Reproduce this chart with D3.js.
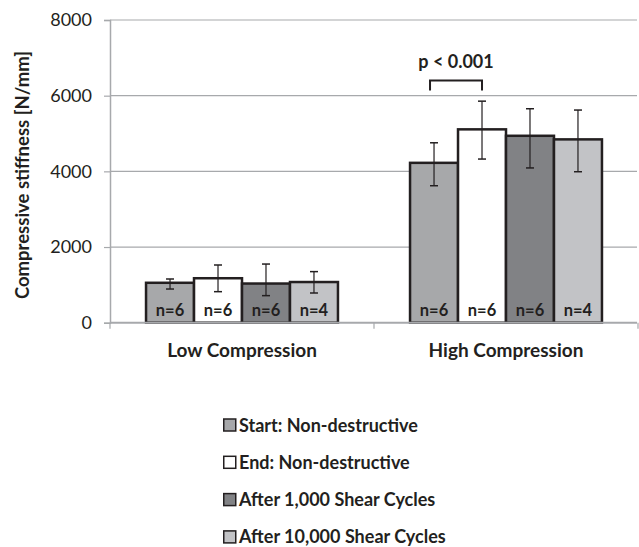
<!DOCTYPE html>
<html>
<head>
<meta charset="utf-8">
<script src="https://d3js.org/d3.v7.min.js"></script>
<style>
  body { margin: 0; background: #fff; }
  text { font-family: Lato, "Open Sans", sans-serif; fill: #231f20; }
</style>
</head>
<body>
<div id="chart"></div>
<script>
const groups = ['Low Compression', 'High Compression'];
const series = ['Start: Non-destructive', 'End: Non-destructive', 'After 1,000 Shear Cycles', 'After 10,000 Shear Cycles'];
const seriesColors = ['#a7a8aa', '#ffffff', '#818285', '#c2c3c6'];
const lowMeans = [1055, 1175, 1035, 1075];
const lowErrTop = [1155, 1525, 1550, 1350];
const lowErrBottom = [890, 820, 715, 785];
const highMeans = [4225, 5110, 4940, 4845];
const highErrTop = [4755, 5855, 5655, 5620];
const highErrBottom = [3620, 4325, 4090, 3990];
const nLabels = ['n=6', 'n=6', 'n=6', 'n=4'];
const yTicks = [0, 2000, 4000, 6000, 8000];

const width = 639;
const height = 547;
const margin = { top: 20, right: 1, bottom: 224, left: 110 };

const rows = [];
groups.forEach((g, gi) => {
    const means = gi === 0 ? lowMeans : highMeans;
    const tops = gi === 0 ? lowErrTop : highErrTop;
    const bottoms = gi === 0 ? lowErrBottom : highErrBottom;
    series.forEach((s, si) => {
        rows.push({ group: g, series: s, value: means[si], hi: tops[si], lo: bottoms[si], n: nLabels[si], color: seriesColors[si] });
    });
});

const svg = d3.select('#chart')
    .append('svg')
    .attr('width', width)
    .attr('height', height);

const x0 = d3.scaleBand()
    .domain(groups)
    .range([margin.left, width - margin.right])
    .paddingInner(0.273)
    .paddingOuter(0.1365);

// the band covers only the bars; axis ticks sit on the category boundaries
const catStep = (width - margin.right - margin.left) / groups.length;

const x1 = d3.scaleBand()
    .domain(series)
    .range([0, x0.bandwidth()]);

const y = d3.scaleLinear()
    .domain([0, 8000])
    .range([height - margin.bottom - 0.3, margin.top]);

// gridlines
svg.append('g')
    .selectAll('line')
    .data(yTicks.filter(d => d > 0))
    .enter()
    .append('line')
    .attr('x1', margin.left)
    .attr('x2', width - 2)
    .attr('y1', d => y(d))
    .attr('y2', d => y(d))
    .attr('stroke', '#a7a9ac')
    .attr('stroke-width', 1.2);

// y axis
const yAxis = svg.append('g')
    .attr('transform', `translate(${margin.left},0)`)
    .call(d3.axisLeft(y).tickValues(yTicks).tickSize(6).tickFormat(d3.format('d')));
yAxis.select('.domain').attr('stroke', '#a7a9ac').attr('stroke-width', 1.5);
yAxis.selectAll('.tick line').attr('stroke', '#a7a9ac').attr('stroke-width', 1.2);
yAxis.selectAll('.tick text')
    .attr('x', -18)
    .style('font-size', '18px')
    .style('font-family', 'Lato, "Open Sans", sans-serif')
    .attr('fill', '#231f20');

// bars
const barG = svg.append('g')
    .selectAll('g')
    .data(groups)
    .enter()
    .append('g')
    .attr('transform', d => `translate(${x0(d)},0)`);

barG.selectAll('rect')
    .data(g => rows.filter(r => r.group === g))
    .enter()
    .append('rect')
    .attr('x', d => x1(d.series))
    .attr('y', d => y(d.value))
    .attr('width', x1.bandwidth())
    .attr('height', d => y(0) - y(d.value))
    .attr('fill', d => d.color)
    .attr('stroke', '#231f20')
    .attr('stroke-width', 2.5);

// x axis line drawn over the bar bottoms
const xBase = y(0);
svg.append('line')
    .attr('x1', margin.left)
    .attr('x2', width - 2)
    .attr('y1', xBase)
    .attr('y2', xBase)
    .attr('stroke', '#a7a9ac')
    .attr('stroke-width', 2);

svg.append('g')
    .selectAll('line')
    .data(d3.range(groups.length + 1))
    .enter()
    .append('line')
    .attr('x1', i => margin.left + i * catStep)
    .attr('x2', i => margin.left + i * catStep)
    .attr('y1', xBase)
    .attr('y2', xBase + 6)
    .attr('stroke', '#a7a9ac')
    .attr('stroke-width', 1.2);

// error bars
const errG = barG.selectAll('g.err')
    .data(g => rows.filter(r => r.group === g))
    .enter()
    .append('g')
    .attr('class', 'err')
    .attr('transform', d => `translate(${x1(d.series) + x1.bandwidth() / 2},0)`);

errG.append('line')
    .attr('y1', d => y(d.hi))
    .attr('y2', d => y(d.lo))
    .attr('stroke', '#231f20')
    .attr('stroke-width', 1.2);
errG.selectAll('line.cap')
    .data(d => [d.hi, d.lo])
    .enter()
    .append('line')
    .attr('class', 'cap')
    .attr('x1', -4)
    .attr('x2', 4)
    .attr('y1', v => y(v))
    .attr('y2', v => y(v))
    .attr('stroke', '#231f20')
    .attr('stroke-width', 1.5);

// n labels
barG.selectAll('text.n')
    .data(g => rows.filter(r => r.group === g))
    .enter()
    .append('text')
    .attr('class', 'n')
    .attr('x', d => x1(d.series) + x1.bandwidth() / 2)
    .attr('y', xBase - 7)
    .attr('text-anchor', 'middle')
    .style('font-size', '16.5px')
    .style('font-weight', 'bold')
    .text(d => d.n);

// category labels
svg.append('g')
    .selectAll('text')
    .data(groups)
    .enter()
    .append('text')
    .attr('x', d => x0(d) + x0.bandwidth() / 2)
    .attr('y', 357)
    .attr('text-anchor', 'middle')
    .style('font-size', '19px')
    .style('font-weight', 'bold')
    .text(d => d);

// y axis title
svg.append('text')
    .attr('transform', 'translate(29,175) rotate(-90)')
    .attr('text-anchor', 'middle')
    .style('font-size', '18.5px')
    .style('font-weight', 'bold')
    .text('Compressive stiffness [N/mm]');

// significance bracket between first two high-compression bars
const hx = x0(groups[1]);
const bx1 = hx + x1(series[0]) + x1.bandwidth() / 2 - 4;
const bx2 = hx + x1(series[1]) + x1.bandwidth() / 2;
const bTop = y(6400);
svg.append('path')
    .attr('d', `M${bx1},${bTop + 10}V${bTop}H${bx2}V${bTop + 10}`)
    .attr('fill', 'none')
    .attr('stroke', '#231f20')
    .attr('stroke-width', 2);
svg.append('text')
    .attr('x', (bx1 + bx2) / 2)
    .attr('y', bTop - 13)
    .attr('text-anchor', 'middle')
    .style('font-size', '18px')
    .style('font-weight', 'bold')
    .text('p < 0.001');

// legend
const legend = svg.append('g')
    .attr('transform', 'translate(223,0)')
    .selectAll('g')
    .data(series)
    .enter()
    .append('g')
    .attr('transform', (d, i) => `translate(0,${425 + i * 37.3})`);
legend.append('rect')
    .attr('x', 0.75)
    .attr('y', -6)
    .attr('width', 12)
    .attr('height', 12)
    .attr('fill', (d, i) => seriesColors[i])
    .attr('stroke', '#231f20')
    .attr('stroke-width', 1.5);
legend.append('text')
    .attr('x', 16)
    .attr('y', 6.5)
    .style('font-size', '18px')
    .style('font-weight', 'bold')
    .text(d => d);
</script>
</body>
</html>
